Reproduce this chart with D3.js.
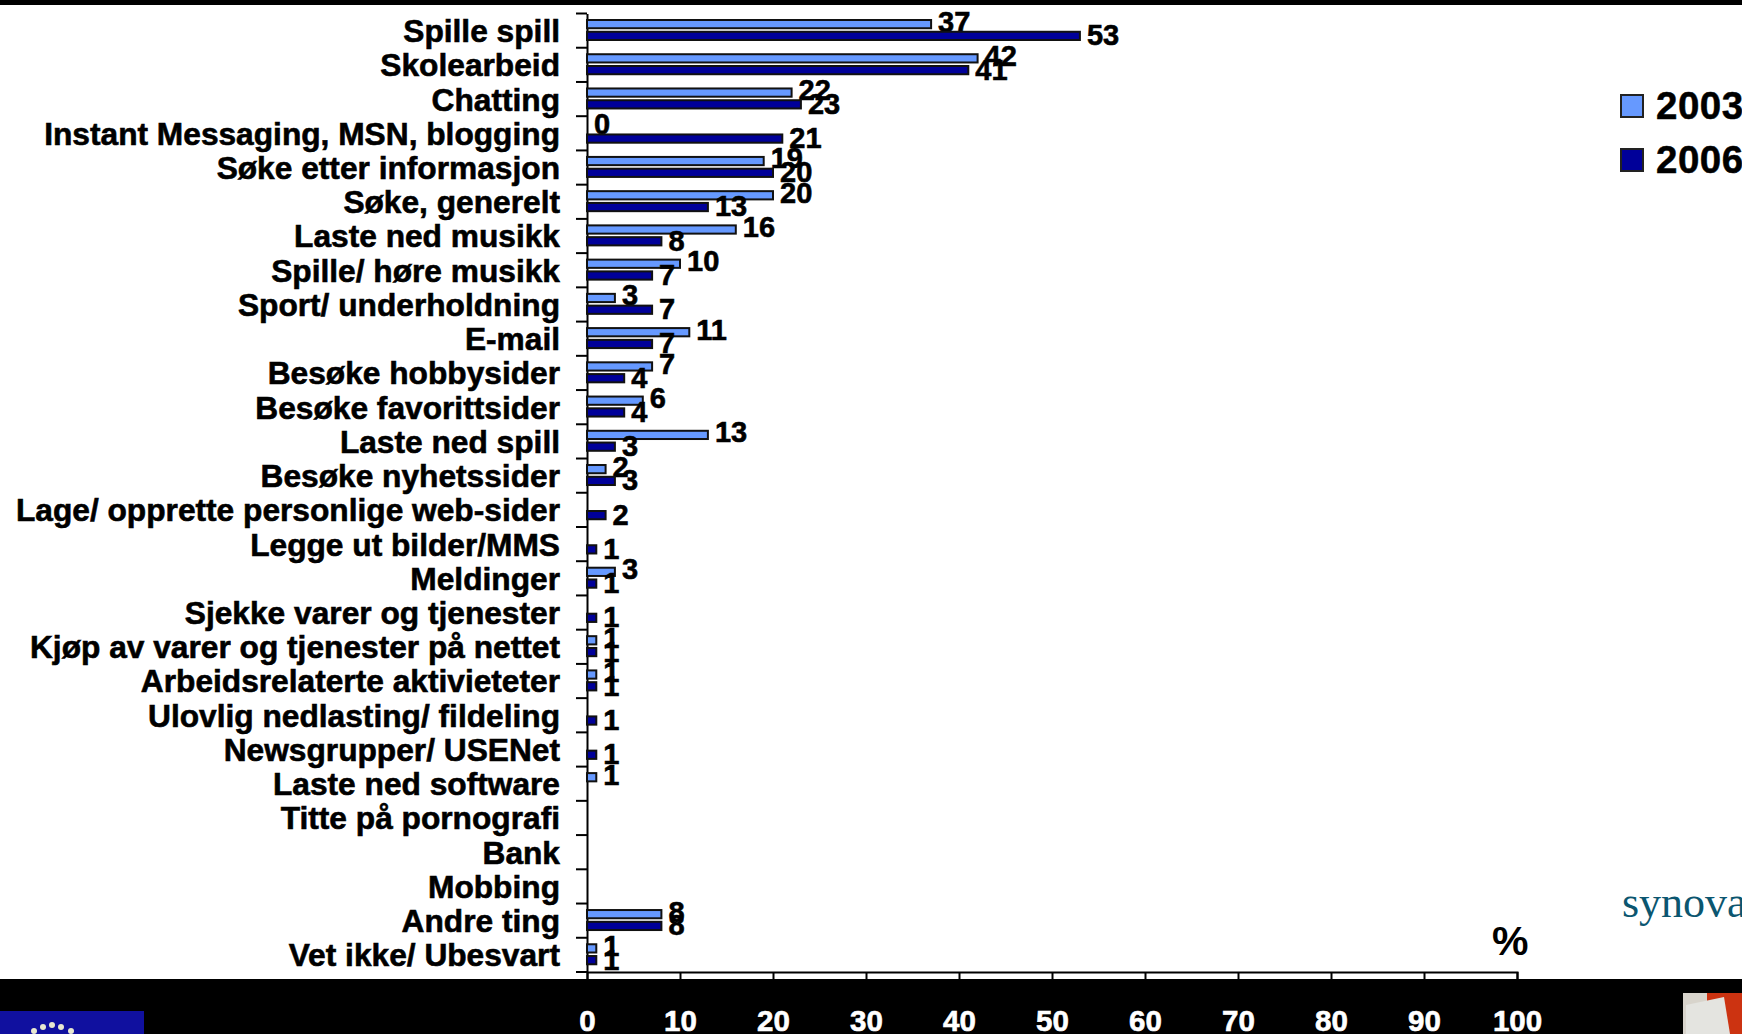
<!DOCTYPE html>
<html><head><meta charset="utf-8">
<script src="https://cdn.jsdelivr.net/npm/d3@7"></script>
<style>html,body{margin:0;padding:0;background:#fff}svg{display:block}text{font-family:"Liberation Sans",Arial,sans-serif;font-weight:bold}</style>
</head><body><svg id="c" width="1742" height="1034"></svg>
<script>
const categories=["Spille spill","Skolearbeid","Chatting","Instant Messaging, MSN, blogging","Søke etter informasjon","Søke, generelt","Laste ned musikk","Spille/ høre musikk","Sport/ underholdning","E-mail","Besøke hobbysider","Besøke favorittsider","Laste ned spill","Besøke nyhetssider","Lage/ opprette personlige web-sider","Legge ut bilder/MMS","Meldinger","Sjekke varer og tjenester","Kjøp av varer og tjenester på nettet","Arbeidsrelaterte aktivieteter","Ulovlig nedlasting/ fildeling","Newsgrupper/ USENet","Laste ned software","Titte på pornografi","Bank","Mobbing","Andre ting","Vet ikke/ Ubesvart"];
const values2003=[37,42,22,0,19,20,16,10,3,11,7,6,13,2,null,null,3,null,1,1,null,null,1,null,null,null,8,1];
const values2006=[53,41,23,21,20,13,8,7,7,7,4,4,3,3,2,1,1,1,1,1,1,1,null,null,null,null,8,1];
const xTicks=[0,10,20,30,40,50,60,70,80,90,100];
const seriesNames=["2003","2006"];
const seriesColors=["#6699ff","#000099"];

const svg=d3.select("#c");
const x=d3.scaleLinear().domain([0,100]).range([587,1517]);
const y=d3.scaleBand().domain(categories).range([13.5,972]);
const inner=d3.scaleBand().domain(seriesNames).range([6.5,26.5]).paddingInner(0.3);

// header rule and footer band
svg.append("rect").attr("x",0).attr("y",0).attr("width",1742).attr("height",5).attr("fill","#000");
svg.append("rect").attr("x",0).attr("y",979).attr("width",1742).attr("height",55).attr("fill","#000");

// axes
const xAxis=svg.append("g").attr("transform","translate(0,972)")
  .call(d3.axisBottom(x).tickValues(xTicks).tickSize(7).tickFormat(d3.format("d")));
xAxis.select(".domain").attr("stroke","#000").attr("stroke-width",2);
xAxis.selectAll(".tick line").attr("stroke","#000").attr("stroke-width",2);
xAxis.selectAll(".tick text").attr("fill","#fff").attr("stroke","#fff").attr("stroke-width",0.6)
  .attr("font-size",29.5).attr("y",0).attr("dy",0).attr("transform","translate(0,59)");

const yAxis=svg.append("g").attr("transform","translate(587,0)")
  .call(d3.axisLeft(y).tickSize(0).tickPadding(27));
yAxis.select(".domain").attr("stroke","#000").attr("stroke-width",2);
yAxis.selectAll(".tick text").attr("fill","#000").attr("stroke","#000").attr("stroke-width",0.6)
  .attr("font-size",31.7).attr("dy","0.36em");
yAxis.selectAll(".cat-tick").data(d3.range(categories.length+1)).enter().append("line")
  .attr("class","cat-tick").attr("x1",-11).attr("x2",0)
  .attr("y1",i=>y.range()[0]+i*y.step()).attr("y2",i=>y.range()[0]+i*y.step())
  .attr("stroke","#000").attr("stroke-width",2);

// bars
[values2003,values2006].forEach((vals,si)=>{
  const name=seriesNames[si];
  const g=svg.append("g");
  const rows=categories.map((c,i)=>({c,v:vals[i]})).filter(d=>d.v!==null);
  g.selectAll("rect").data(rows).enter().append("rect")
    .attr("x",x(0)).attr("y",d=>y(d.c)+inner(name))
    .attr("width",d=>x(d.v)-x(0)).attr("height",inner.bandwidth())
    .attr("fill",seriesColors[si]).attr("stroke","#111").attr("stroke-width",2);
  g.selectAll("text").data(rows).enter().append("text")
    .attr("x",d=>x(d.v)+7).attr("y",d=>y(d.c)+inner(name)+inner.bandwidth()/2-(si?1:3))
    .attr("dy","0.36em").attr("font-size",29).attr("fill","#000").attr("stroke","#000").attr("stroke-width",0.6).text(d=>d.v);
});

// legend
const lg=svg.append("g").selectAll("g").data(seriesNames).enter().append("g")
  .attr("transform",(d,i)=>`translate(1621,${95+i*54})`);
lg.append("rect").attr("width",22).attr("height",22)
  .attr("fill",(d,i)=>seriesColors[i]).attr("stroke","#222").attr("stroke-width",2);
lg.append("text").attr("x",35).attr("y",24).attr("font-size",38.5).attr("letter-spacing",0.5).attr("fill","#000").attr("stroke","#000").attr("stroke-width",0.5).text(d=>d);

// percent sign and brand text
svg.append("text").attr("x",1492).attr("y",955).attr("font-size",41).attr("fill","#000").text("%");
svg.append("text").attr("x",1622).attr("y",917).attr("font-size",44).attr("fill","#0b5670")
  .style("font-family","'Liberation Serif',serif").style("font-weight","normal").text("synova");

// EU flag emblem
svg.append("rect").attr("x",0).attr("y",1011).attr("width",144).attr("height",23).attr("fill","#10109f");
svg.selectAll(".star").data([34,43,52,61,71]).enter().append("circle").attr("class","star")
  .attr("cx",d=>d).attr("cy",d=>d===52?1025:(d===43||d===61?1027:1031)).attr("r",3).attr("fill","#e8e8d0");

// corner emblem
svg.append("rect").attr("x",1683).attr("y",993).attr("width",59).attr("height",41).attr("fill","#d8d4cc");
svg.append("rect").attr("x",1707).attr("y",993).attr("width",35).attr("height",41).attr("fill","#cc3311");
svg.append("path").attr("d","M1686,1005 L1724,997 L1730,1034 L1686,1034 Z").attr("fill","#e4e4e0");
</script></body></html>
